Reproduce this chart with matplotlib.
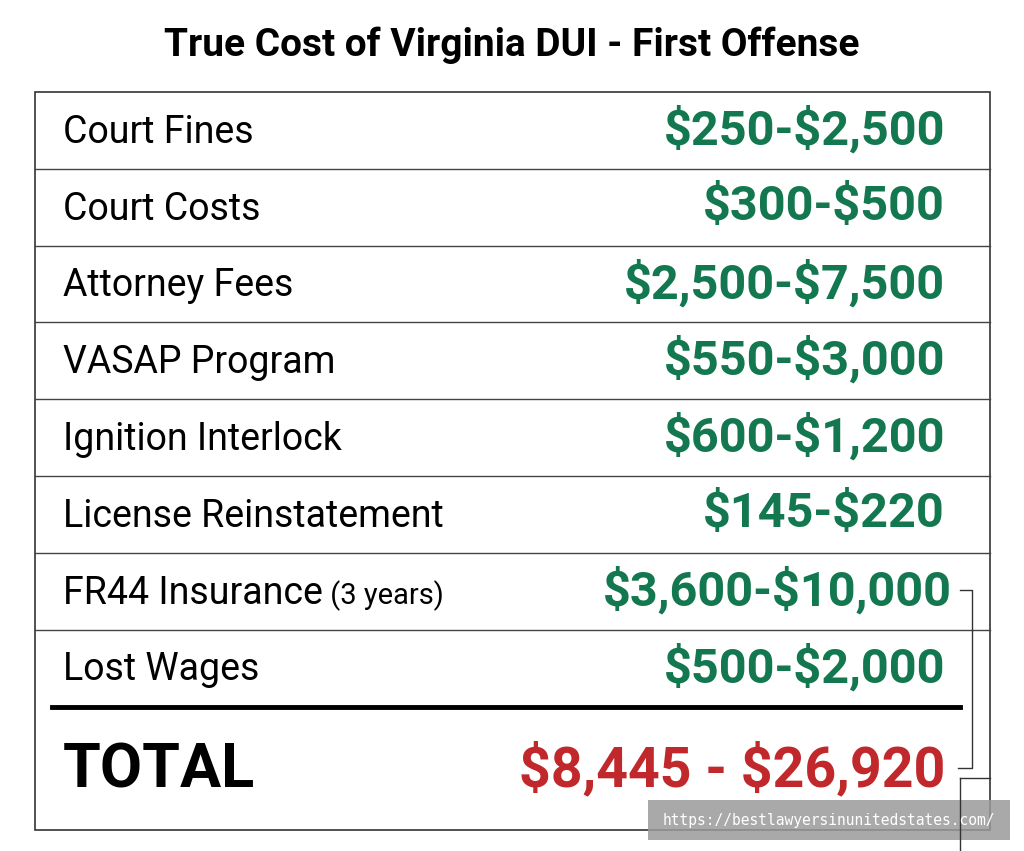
import matplotlib
matplotlib.use("Agg")
import matplotlib.pyplot as plt

title = "True Cost of Virginia DUI - First Offense"
categories = ["Court Fines", "Court Costs", "Attorney Fees", "VASAP Program",
              "Ignition Interlock", "License Reinstatement", "FR44 Insurance", "Lost Wages"]
notes = ["", "", "", "", "", "", " (3 years)", ""]
low = [250, 300, 2500, 550, 600, 145, 3600, 500]
high = [2500, 500, 7500, 3000, 1200, 220, 10000, 2000]
total_low, total_high = 8445, 26920
watermark = "https://bestlawyersinunitedstates.com/"

fig = plt.figure(figsize=(10.24, 8.51), dpi=100)
ax = fig.add_axes([0, 0, 1, 1])
ax.set_xlim(0, 1024); ax.set_ylim(851, 0); ax.axis("off")

green = "#13774f"; red = "#c1282b"
ax.text(512, 45, title, ha="center", va="center", fontsize=28, fontweight="bold", family="Roboto")
ax.add_patch(plt.Rectangle((35, 92), 955, 738, fill=False, ec="#333333", lw=1.2))
top, rh = 92, 76.8
for i, (c, n, lo, hi) in enumerate(zip(categories, notes, low, high)):
    yc = top + rh * i + rh / 2
    t = ax.text(63, yc + 2, c, ha="left", va="center", fontsize=27, family="Roboto")
    if n:
        fig.canvas.draw()
        bb = t.get_window_extent()
        ax.text(bb.x1, yc + 4, n, ha="left", va="center", fontsize=21, family="Roboto")
    xr = 952 if hi >= 10000 else 945
    ax.text(xr, yc, f"\\${lo:,}-\\${hi:,}", ha="right", va="center", fontsize=35,
            fontweight="bold", color=green, family="Roboto")
    if i < len(categories) - 1:
        ax.plot([35, 990], [top + rh * (i + 1)] * 2, color="#444444", lw=1)
ax.plot([52, 960], [707, 707], color="black", lw=3.5)
ax.text(63, 770, "TOTAL", ha="left", va="center", fontsize=44, fontweight="bold", family="Roboto")
ax.text(945, 770, f"\\${total_low:,} - \\${total_high:,}", ha="right", va="center", fontsize=40,
        fontweight="bold", color=red, family="Roboto")
ax.plot([960, 972, 972, 958], [590, 590, 768, 768], color="#333333", lw=1)
ax.plot([960, 990], [778, 778], color="#333333", lw=1)
ax.plot([960, 960], [778, 851], color="#333333", lw=1)
ax.add_patch(plt.Rectangle((648, 800), 362, 40, color="#9a9a9a", alpha=0.85, lw=0))
ax.text(829, 820, watermark, ha="center", va="center", fontsize=10.5, color="white", family="DejaVu Sans Mono")
fig.savefig("out.png", dpi=100)
